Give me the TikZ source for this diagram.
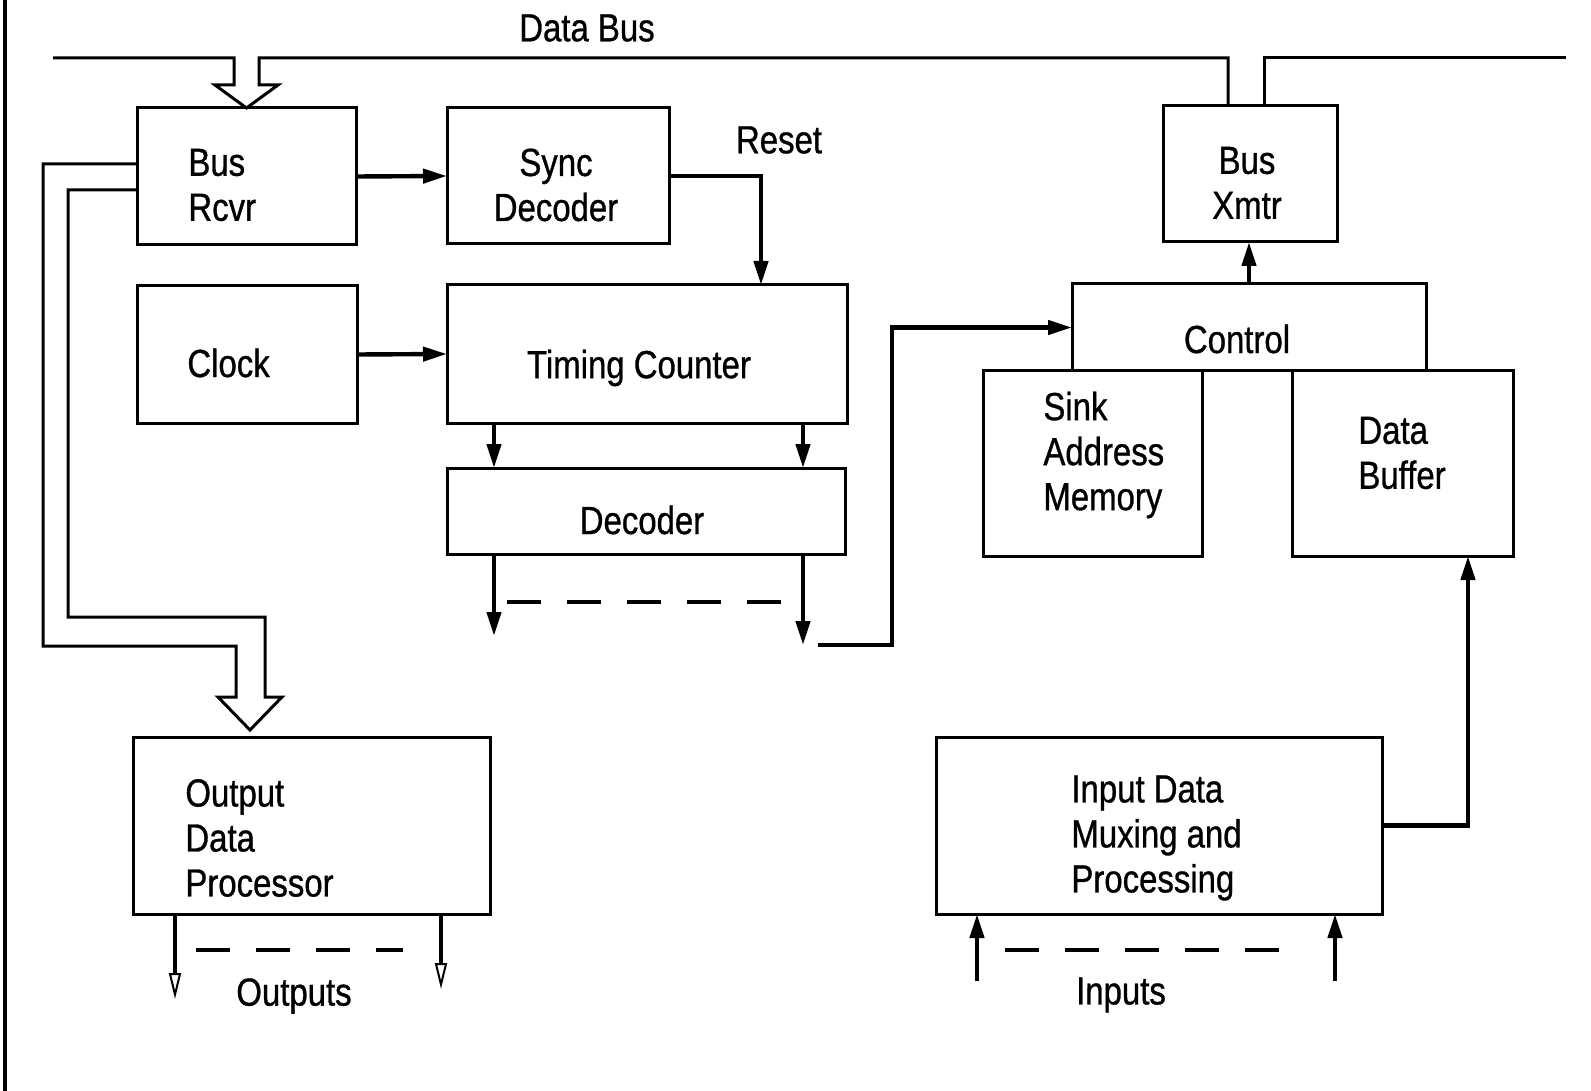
\documentclass[tikz,border=0pt]{standalone}
\usepackage{fontspec}
\setmainfont{Liberation Sans}[FakeStretch=0.84, FakeBold=0.8]
\usetikzlibrary{arrows.meta, calc}
\newcommand{\lblfont}{\fontsize{19.6}{22.5}\selectfont}

\begin{document}
\begin{tikzpicture}[x=0.5pt, y=-0.5pt,
    box/.style={rectangle, draw, line width=1.5pt, inner sep=0pt, outer sep=0pt},
    lbl/.style={inner sep=0pt, font=\lblfont},
    arrow/.style={-{Triangle[length=12pt, width=7pt]}, line width=2.2pt},
    thinarrow/.style={-{Triangle[open, length=13pt, width=6pt, line width=1pt]}, line width=1.8pt},
    dashline/.style={line width=2pt, dash pattern=on 17pt off 13pt},
    busline/.style={line width=1.5pt, line join=miter}
  ]
  \useasboundingbox (0,0) rectangle (1591,1091);
  \fill[white] (0,0) rectangle (1591,1091);
  \draw[line width=1.6pt] (5,0) -- (5,1091);

  % boxes
  \node[box, minimum width=109.5pt, minimum height=68.5pt] (rcvr) at (246.5,176.5) {};
  \node[box, minimum width=111pt, minimum height=68pt] (sync) at (558,176) {};
  \node[box, minimum width=110pt, minimum height=68.5pt] (clock) at (247,354.5) {};
  \node[box, minimum width=200pt, minimum height=69pt] (timing) at (647,354) {};
  \node[box, minimum width=199pt, minimum height=43pt] (decoder) at (646,511) {};
  \node[box, minimum width=177pt, minimum height=43.5pt] (control) at (1249,327.5) {};
  \node[box, minimum width=87pt, minimum height=68pt] (xmtr) at (1250,174) {};
  \node[box, minimum width=109.5pt, minimum height=92.5pt] (sink) at (1092.5,463.5) {};
  \node[box, minimum width=110.5pt, minimum height=92.5pt] (buffer) at (1402.5,463.5) {};
  \node[box, minimum width=223pt, minimum height=88.5pt] (input) at (1159,825.5) {};
  \node[box, minimum width=178.5pt, minimum height=88.5pt] (odp) at (311.5,825.5) {};

  % texts
  \node[lbl] (databus) at (587,28) {Data Bus};
  \node[lbl, anchor=west, align=left] (rcvrtxt) at (188,185) {Bus\\Rcvr};
  \node[lbl, align=center] (synctxt) at (556,185) {Sync\\Decoder};
  \node[lbl] (resettxt) at (779,140) {Reset};
  \node[lbl, anchor=west] (clocktxt) at (187,363) {Clock};
  \node[lbl] (timingtxt) at (639,368) {Timing Counter};
  \node[lbl] (decodertxt) at (642,520) {Decoder};
  \node[lbl] (controltxt) at (1237,339) {Control};
  \node[lbl, align=center] (xmtrtxt) at (1247,183) {Bus\\Xmtr};
  \node[lbl, anchor=west, align=left] (sinktxt) at (1043,455) {Sink\\Address\\Memory};
  \node[lbl, anchor=west, align=left] (buffertxt) at (1358,453) {Data\\Buffer};
  \node[lbl, anchor=west, align=left] (inputtxt) at (1071,838) {Input Data\\Muxing and\\Processing};
  \node[lbl, anchor=west, align=left] (odptxt) at (185,838) {Output\\Data\\Processor};
  \node[lbl] (outputstxt) at (294,996) {Outputs};
  \node[lbl] (inputstxt) at (1121,995) {Inputs};

  % data bus and wide arrows
  \draw[busline] (53,58) -- (234,58) -- (234,85) -- (215,85) -- (rcvr.north)
    -- (278,85) -- (259,85) -- (259,58) -- (1228,58) -- (xmtr.north -| 1228,0);
  \draw[busline] (xmtr.north -| 1264,0) -- (1264,58) -- (1566,58);
  \draw[busline] (rcvr.west |- 0,164) -- (43,164) -- (43,646) -- (236,646) -- (236,697)
    -- (218,697) -- (250,730) -- (282,697) -- (265,697) -- (265,617) -- (68,617)
    -- (68,190) -- (rcvr.west |- 0,190);

  % connectors
  \coordinate (decl) at (494,636);
  \coordinate (decr) at (803,645);
  \coordinate (ctlin) at (818,645);
  \coordinate (inl) at (977,981);
  \coordinate (inr) at (1335,981);
  \coordinate (outl) at (175,999);
  \coordinate (outr) at (441,989);
  \draw[arrow] (rcvr.east) -- (sync.west);
  \draw[arrow] (sync.east) -| (timing.north -| 761,0);
  \draw[arrow] (clock.east) -- (timing.west);
  \draw[arrow] (timing.south -| decl) -- (decoder.north -| decl);
  \draw[arrow] (timing.south -| decr) -- (decoder.north -| decr);
  \draw[arrow] (decoder.south -| decl) -- (decl);
  \draw[arrow] (decoder.south -| decr) -- (decr);
  \draw[dashline] (507,602) -- (789,602);
  \draw[arrow] (ctlin) -- (892,645) |- (control.west);
  \draw[arrow] (control.north) -- (control.north |- xmtr.south);
  \draw[arrow] (input.east) -| (buffer.south -| 1468,0);
  \draw[arrow] (inl) -- (inl |- input.south);
  \draw[arrow] (inr) -- (inr |- input.south);
  \draw[dashline] (1005,950) -- (1291,950);
  \draw[thinarrow] (odp.south -| outl) -- (outl);
  \draw[thinarrow] (odp.south -| outr) -- (outr);
  \draw[dashline] (196,950) -- (403,950);
\end{tikzpicture}
\end{document}
